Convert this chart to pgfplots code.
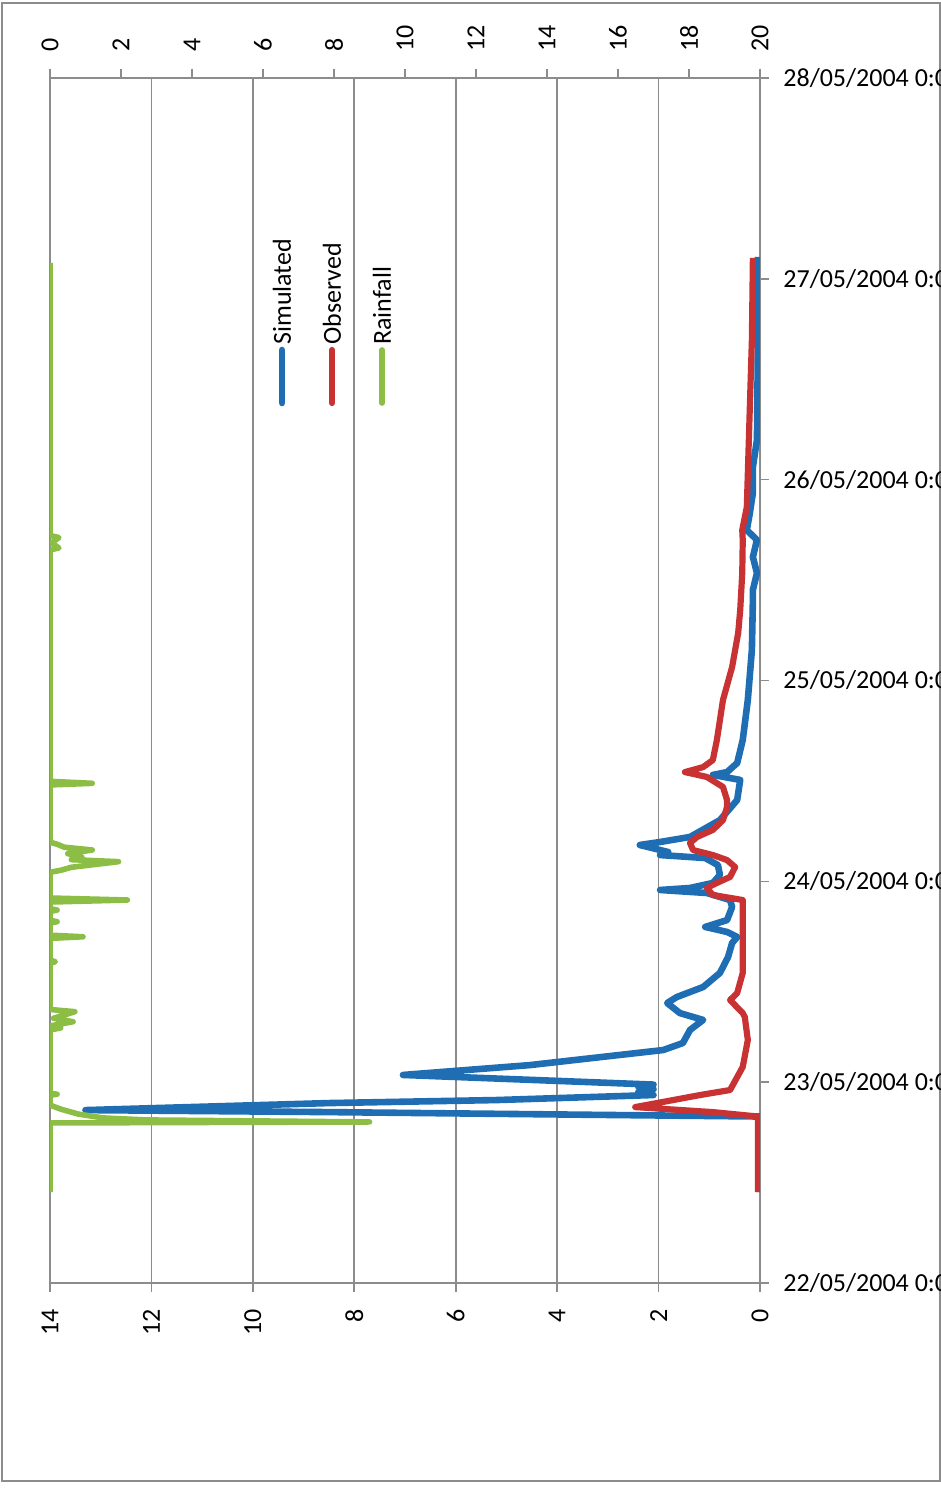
\documentclass[border=0pt]{standalone}
\usepackage{fontspec}
\setmainfont{Carlito}
\usepackage{pgfplots}
\pgfplotsset{compat=1.18}
\definecolor{simblue}{RGB}{31,110,180}
\definecolor{obsred}{RGB}{200,50,50}
\definecolor{raingreen}{RGB}{140,190,70}
\definecolor{axgray}{RGB}{140,140,140}
\begin{document}
\begin{tikzpicture}
\begin{scope}[x=0.5pt,y=-0.5pt]
\draw[axgray, line width=1pt] (2,3) rectangle (939.5,1481);
\end{scope}
\pgfplotsset{
  common/.style={
    at={(25pt,-641.5pt)}, anchor=south west,
    scale only axis, width=355pt, height=602.5pt,
    ymin=0, ymax=6,
    tick align=outside, major tick length=4.5pt,
    axis line style={axgray, line width=0.8pt},
    tick style={axgray, line width=0.8pt},
    /pgf/number format/assume math mode=true,
    tick label style={font=\fontsize{13}{15}\selectfont, inner sep=0pt},
  }
}
\begin{axis}[common,
  xmin=0, xmax=14, x dir=reverse,
  xtick={0,2,...,14}, ytick={0,1,...,6},
  yticklabels={22/05/2004 0:00,23/05/2004 0:00,24/05/2004 0:00,25/05/2004 0:00,26/05/2004 0:00,27/05/2004 0:00,28/05/2004 0:00},
  xtick pos=bottom, ytick pos=right, yticklabel pos=right,
  xmajorgrids, grid style={axgray, line width=0.8pt},
  xticklabel style={rotate=90, anchor=east},
  xticklabel shift=8.5pt,
  yticklabel style={anchor=west},
  yticklabel shift=7pt,
]
\addplot[simblue, line width=3.3pt, line join=round] coordinates {
(0,0.453)(0,0.829)(8.5,0.851)(13.3,0.861)(8.5,0.896)(5.2,0.911)(2.1,0.936)
(2.4,0.950)(2.1,0.965)(2.4,0.978)(2.1,0.988)(7.04,1.036)(4.54,1.085)(1.91,1.160)
(1.52,1.195)(1.38,1.260)(1.12,1.310)(1.58,1.344)(1.83,1.394)(1.64,1.424)(1.12,1.474)
(0.79,1.544)(0.63,1.623)(0.55,1.693)(0.45,1.723)(0.65,1.748)(1.08,1.773)(0.65,1.807)
(0.55,1.872)(0.59,1.907)(1.05,1.942)(1.97,1.957)(1.38,1.967)(0.93,1.992)(0.79,2.032)
(0.83,2.081)(1.08,2.116)(1.97,2.131)(1.81,2.146)(2.37,2.181)(1.97,2.196)(1.38,2.221)
(0.79,2.305)(0.45,2.405)(0.39,2.505)(0.93,2.530)(0.65,2.544)(0.45,2.589)(0.34,2.704)
(0.24,2.903)(0.16,3.152)(0.14,3.401)(0.14,3.451)(0.06,3.535)(0.14,3.615)(0.06,3.700)
(0.26,3.749)(0.20,3.834)(0.14,3.934)(0.14,4.063)(0.06,4.198)(0.04,4.696)(0.04,5.109)
};
\addplot[obsred, line width=3.1pt, line join=round] coordinates {
(0.04,0.453)(0.04,0.829)(0.93,0.851)(2.46,0.876)(1.18,0.936)(0.59,0.961)(0.34,1.076)
(0.24,1.210)(0.30,1.325)(0.34,1.344)(0.59,1.409)(0.45,1.444)(0.34,1.544)(0.34,1.907)
(0.93,1.932)(1.05,1.967)(0.85,1.992)(0.59,2.022)(0.49,2.071)(0.65,2.106)(0.93,2.131)
(1.32,2.156)(1.38,2.191)(1.24,2.221)(0.93,2.256)(0.73,2.305)(0.65,2.370)(0.65,2.405)
(0.73,2.470)(1.05,2.520)(1.48,2.544)(1.12,2.569)(0.93,2.604)(0.85,2.704)(0.73,2.903)
(0.55,3.067)(0.43,3.237)(0.39,3.351)(0.35,3.535)(0.34,3.700)(0.35,3.749)(0.26,3.864)
(0.22,4.198)(0.16,4.696)(0.14,5.104)
};
\end{axis}
\begin{axis}[common,
  xmin=0, xmax=20,
  axis x line*=top, hide y axis,
  xtick={0,2,...,20},
  xticklabel style={rotate=90, anchor=west},
  xticklabel shift=8.5pt,
]
\addplot[raingreen, line width=2.8pt, line join=round] coordinates {
(0,0.453)(0,0.797)(9.0,0.802)(2.7,0.812)(1.5,0.822)(0.8,0.841)(0.3,0.866)(0,0.886)
(0,0.935)(0.2,0.940)(0,0.945)(0,1.260)(0.3,1.270)(0,1.280)(0.65,1.301)(0.1,1.318)
(0.7,1.351)(0,1.362)(0,1.592)(0.15,1.600)(0,1.608)(0,1.716)(0.93,1.724)(0,1.732)
(0,1.792)(0.2,1.799)(0,1.806)(0,1.850)(0.2,1.857)(0,1.864)(0,1.897)(2.18,1.907)
(0,1.917)(0,2.045)(0.3,2.055)(0.6,2.070)(1.93,2.098)(0.6,2.108)(0.9,2.120)(0.5,2.138)
(1.19,2.156)(0.4,2.170)(0.2,2.185)(0,2.195)(0,2.480)(1.19,2.488)(0,2.498)
(0,3.650)(0.25,3.660)(0.05,3.685)(0.25,3.712)(0,3.722)(0,5.080)
};
\end{axis}
\begin{scope}[x=0.5pt,y=-0.5pt]
\draw[simblue, line width=3.3pt, line cap=round] (282,403) -- (282,350);
\draw[obsred, line width=3.1pt, line cap=round] (332,403) -- (332,350);
\draw[raingreen, line width=2.8pt, line cap=round] (382,403) -- (382,350);
\node[rotate=90, anchor=west, inner sep=0pt, font=\fontsize{13}{15}\selectfont] at (282,345) {Simulated};
\node[rotate=90, anchor=west, inner sep=0pt, font=\fontsize{13}{15}\selectfont] at (332,345) {Observed};
\node[rotate=90, anchor=west, inner sep=0pt, font=\fontsize{13}{15}\selectfont] at (382,345) {Rainfall};
\pgfresetboundingbox
\path[use as bounding box] (0,0) rectangle (941,1488);
\end{scope}
\end{tikzpicture}
\end{document}
